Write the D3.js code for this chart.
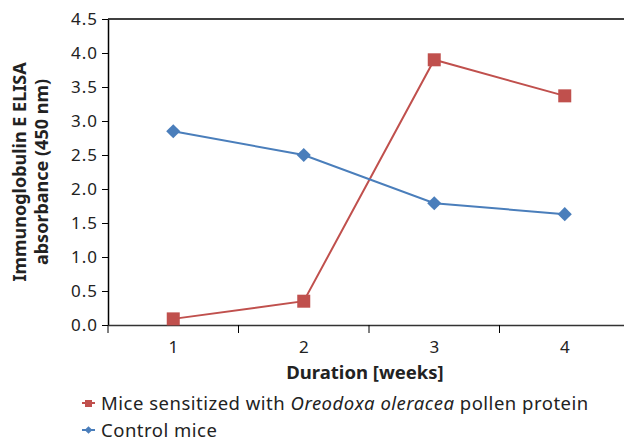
<!DOCTYPE html>
<html><head><meta charset="utf-8">
<script src="https://cdn.jsdelivr.net/npm/d3@7"></script>
<style>body{margin:0;background:#fff}svg{display:block}text{font-family:"Noto Sans",sans-serif;fill:#222}</style>
</head><body>
<script>
const weeks = [1, 2, 3, 4];
const sensitized = [0.09, 0.35, 3.9, 3.37];
const control = [2.85, 2.5, 1.79, 1.63];
const yTicks = [0, 0.5, 1, 1.5, 2, 2.5, 3, 3.5, 4, 4.5];
const seriesNames = ["Mice sensitized with ", "Oreodoxa oleracea", " pollen protein"];
const controlName = "Control mice";

(function () {
const W = 624, H = 443;
const svg = d3.select("body").append("svg").attr("width", W).attr("height", H);
const mL = 108, mR = 630, mT = 19, mB = 325;
const x = d3.scaleBand().domain(weeks).range([mL, mR]);
const y = d3.scaleLinear().domain([0, 4.5]).range([mB, mT]);

// top border
svg.append("line").attr("x1", mL).attr("x2", W).attr("y1", mT).attr("y2", mT).attr("stroke", "#000").attr("stroke-width", 1.5);

// y axis
const ya = svg.append("g").attr("transform", `translate(${mL},0)`)
  .call(d3.axisLeft(y).tickValues(yTicks).tickFormat(d3.format(".1f")).tickSize(6).tickSizeOuter(0));
ya.select(".domain").attr("stroke", "#000").attr("stroke-width", 1.5);
ya.selectAll(".tick line").attr("stroke", "#000");
ya.selectAll("text").attr("font-size", 17).attr("x", -10).attr("letter-spacing", 1)
  .style("font-family", "'Noto Sans',sans-serif").attr("fill", "#222");

// x axis
const xa = svg.append("g").attr("transform", `translate(0,${mB})`)
  .call(d3.axisBottom(x).tickSize(0).tickSizeOuter(0));
xa.select(".domain").attr("stroke", "#333").attr("stroke-width", 1.5);
xa.selectAll("text").attr("font-size", 17).attr("dy", "1.45em").style("font-family", "'Noto Sans',sans-serif").attr("fill", "#222");
// boundary ticks between categories
const bounds = weeks.map(w => x(w));
svg.append("g").selectAll("line").data(bounds).join("line")
  .attr("x1", d => d).attr("x2", d => d).attr("y1", mB).attr("y2", mB + 8).attr("stroke", "#000");

svg.append("text").attr("x", 365).attr("y", 379).attr("text-anchor", "middle")
  .attr("font-size", 18.5).attr("font-weight", "bold").text("Duration [weeks]");

const yt = svg.append("text").attr("transform", "translate(0,172) rotate(-90)").attr("text-anchor", "middle")
  .attr("font-size", 18).attr("font-weight", "bold");
yt.append("tspan").attr("x", 0).attr("y", 26).text("Immunoglobulin E ELISA");
yt.append("tspan").attr("x", 0).attr("y", 48).text("absorbance (450 nm)");

const cx = d => x(d) + x.bandwidth() / 2;
const line = d3.line().x((d, i) => cx(weeks[i])).y(d => y(d));

const red = "#c0504d", blue = "#4a7ebb";
svg.append("path").datum(sensitized).attr("d", line).attr("fill", "none").attr("stroke", red).attr("stroke-width", 2);
svg.append("path").datum(control).attr("d", line).attr("fill", "none").attr("stroke", blue).attr("stroke-width", 2);

svg.append("g").selectAll("rect").data(sensitized).join("rect")
  .attr("x", (d, i) => cx(weeks[i]) - 6.5).attr("y", d => y(d) - 6.5).attr("width", 13).attr("height", 13).attr("fill", red);
const dia = d3.symbol().type(d3.symbolSquare).size(100);
svg.append("g").selectAll("path").data(control).join("path")
  .attr("d", dia).attr("transform", (d, i) => `translate(${cx(weeks[i])},${y(d)}) rotate(45)`).attr("fill", blue);

// legend
const lg = svg.append("g");
lg.append("line").attr("x1", 82).attr("x2", 95).attr("y1", 403).attr("y2", 403).attr("stroke", red).attr("stroke-width", 2);
lg.append("rect").attr("x", 85).attr("y", 400).attr("width", 7).attr("height", 7).attr("fill", red);
const t1 = lg.append("text").attr("x", 101).attr("y", 410).attr("font-size", 18.5).attr("letter-spacing", 0.5);
t1.append("tspan").text(seriesNames[0]);
t1.append("tspan").attr("font-style", "italic").text(seriesNames[1]);
t1.append("tspan").text(seriesNames[2]);
lg.append("line").attr("x1", 82).attr("x2", 95).attr("y1", 430).attr("y2", 430).attr("stroke", blue).attr("stroke-width", 2);
lg.append("path").attr("d", d3.symbol().type(d3.symbolSquare).size(30)).attr("transform", "translate(88.5,430) rotate(45)").attr("fill", blue);
lg.append("text").attr("x", 101).attr("y", 437).attr("font-size", 18.5).attr("letter-spacing", 0.5).text(controlName);
})();
</script>
</body></html>
